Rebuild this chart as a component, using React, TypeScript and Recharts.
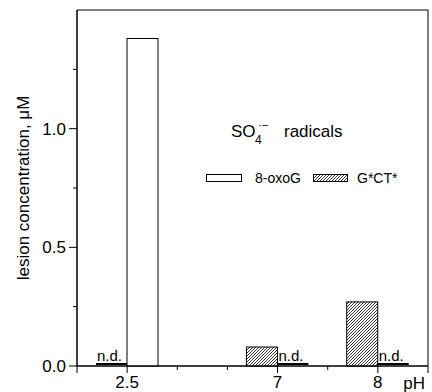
import {
  BarChart,
  Bar,
  XAxis,
  YAxis,
  Legend,
  ReferenceArea,
} from "recharts";

const phLabels = ["2.5", "7", "8"];
const phPositions = [1, 4, 6];
const oxoG = [1.38, 0, 0];
const oxoGDetected = [true, false, false];
const gct = [0, 0.08, 0.27];
const gctDetected = [false, true, true];

const xTicks = [0, 1, 2, 3, 4, 5, 6, 7];
const yTicks = [0, 0.25, 0.5, 0.75, 1, 1.25];

const data = phLabels.map((ph, i) => ({
  ph,
  pos: phPositions[i],
  oxoG: oxoG[i],
  oxoGDet: oxoGDetected[i],
  gct: gct[i],
  gctDet: gctDetected[i],
}));

const font = "Arial, 'Liberation Sans', Helvetica, sans-serif";

function XTick({ x, y, payload }: any) {
  const idx = phPositions.indexOf(payload.value);
  const major = idx >= 0 || payload.value === 0 || payload.value === 7;
  return (
    <g>
      <line x1={x} x2={x} y1={y} y2={y + (major ? 7 : 4)} stroke="#000" />
      {idx >= 0 && (
        <text x={x} y={y + 22} textAnchor="middle" fontSize={17} fill="#000" fontFamily={font}>
          {phLabels[idx]}
        </text>
      )}
    </g>
  );
}

function YTick({ x, y, payload }: any) {
  const v = payload.value;
  const major = Math.abs(v * 2 - Math.round(v * 2)) < 1e-6;
  return (
    <g>
      <line x1={x - (major ? 8 : 4)} x2={x} y1={y} y2={y} stroke="#000" />
      {major && (
        <text x={x - 11} y={y} dy={6} textAnchor="end" fontSize={17} fill="#000" fontFamily={font}>
          {v.toFixed(1)}
        </text>
      )}
    </g>
  );
}

function makeShape(detKey: string, fill: string) {
  return (props: any) => {
    const { x, y, width, height, payload } = props;
    const base = y + height;
    if (!payload[detKey]) {
      return (
        <g>
          <line x1={x} x2={x + width} y1={base - 2} y2={base - 2} stroke="#000" strokeWidth={2} />
          <text x={x + width / 2 - 2} y={base - 5} textAnchor="middle" fontSize={15} fill="#000" fontFamily={font}>
            n.d.
          </text>
        </g>
      );
    }
    return <rect x={x} y={y} width={width} height={height} fill={fill} stroke="#000" strokeWidth={1} />;
  };
}

function Hatch({ id }: { id: string }) {
  return (
    <pattern id={id} patternUnits="userSpaceOnUse" width={3} height={3}>
      <rect width={3} height={3} fill="#fff" />
      <path d="M-1,1 l2,-2 M0,3 l3,-3 M2,4 l2,-2" stroke="#222" strokeWidth={0.9} />
    </pattern>
  );
}

function SeriesLegend() {
  return (
    <svg width={230} height={80} style={{ display: "block" }}>
      <defs>
        <Hatch id="hatchLegend" />
      </defs>
      <text x={31} y={22} fontSize={17} fill="#000" fontFamily={font}>SO</text>
      <text x={55} y={29} fontSize={12} fill="#000" fontFamily={font}>4</text>
      <text x={58} y={14} fontSize={11} fill="#000" fontFamily={font}>·−</text>
      <text x={84} y={22} fontSize={17} fill="#000" fontFamily={font}>radicals</text>
      <rect x={6.5} y={59.5} width={35} height={7} fill="#fff" stroke="#000" />
      <text x={55} y={68} fontSize={14} fill="#000" fontFamily={font}>8-oxoG</text>
      <rect x={113.5} y={59.5} width={34} height={7} fill="url(#hatchLegend)" stroke="#000" />
      <text x={157} y={68} fontSize={14} fill="#000" fontFamily={font}>G*CT*</text>
    </svg>
  );
}

export default function App() {
  return (
    <div style={{ position: "absolute", left: 0, top: 0, background: "#fff", fontFamily: font }}>
      <BarChart
        width={432}
        height={392}
        data={data}
        margin={{ top: 10, right: 4, left: 0, bottom: 0 }}
        barGap={0}
        barSize={31}
      >
        <defs>
          <Hatch id="hatchBar" />
        </defs>
        <ReferenceArea x1={0} x2={7} y1={0} y2={1.5} fill="none" stroke="#000" strokeWidth={1} ifOverflow="visible" />
        <XAxis
          dataKey="pos"
          type="number"
          domain={[0, 7]}
          ticks={xTicks}
          tickCount={2}
          interval={0}
          height={26}
          tickSize={0}
          tickMargin={0}
          tickLine={false}
          axisLine={{ stroke: "#000" }}
          tick={<XTick />}
          label={{ value: "pH", position: "insideBottomRight", offset: 3, fontSize: 17, fill: "#000", fontFamily: font }}
        />
        <YAxis
          type="number"
          domain={[0, 1.5]}
          ticks={yTicks}
          interval={0}
          width={77}
          tickSize={0}
          tickMargin={0}
          tickLine={false}
          axisLine={{ stroke: "#000" }}
          tick={<YTick />}
          label={{
            value: "lesion concentration, μM",
            angle: -90,
            position: "insideLeft",
            offset: 23,
            fontSize: 17,
            fill: "#000",
            fontFamily: font,
            style: { textAnchor: "middle" },
          }}
        />
        <Legend
          layout="horizontal"
          align="center"
          verticalAlign="middle"
          wrapperStyle={{ left: 200, top: 115, width: 230 }}
          content={() => <SeriesLegend />}
        />
        <Bar dataKey="gct" isAnimationActive={false} shape={makeShape("gctDet", "url(#hatchBar)")} />
        <Bar dataKey="oxoG" isAnimationActive={false} shape={makeShape("oxoGDet", "#fff")} />
      </BarChart>
    </div>
  );
}
